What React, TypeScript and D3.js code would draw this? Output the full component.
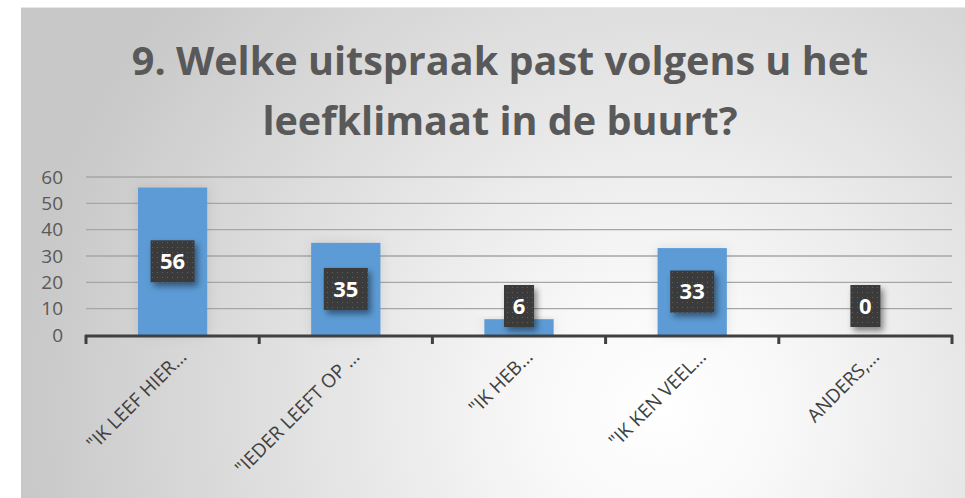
import React, { useEffect, useRef } from "react";
import * as d3 from "d3";

const categories = ['"IK LEEF HIER…', '"IEDER LEEFT OP …', '"IK HEB…', '"IK KEN VEEL…', "ANDERS,…"];
const values = [56, 35, 6, 33, 0];
const yTicks = [0, 10, 20, 30, 40, 50, 60];
const titleLines = ["9. Welke uitspraak past volgens u het", "leefklimaat in de buurt?"];

export default function App() {
  const ref = useRef<SVGSVGElement>(null);

  useEffect(() => {
    const W = 965, H = 498;
    const margin = { top: 177, left: 86, right: 13, bottom: 163 };
    const svg = d3.select(ref.current);
    svg.selectAll("*").remove();

    const defs = svg.append("defs");
    const grad = defs.append("radialGradient").attr("id", "bg")
      .attr("gradientUnits", "userSpaceOnUse")
      .attr("cx", 660).attr("cy", 410).attr("r", 640);
    grad.append("stop").attr("offset", 0).attr("stop-color", "#ffffff");
    grad.append("stop").attr("offset", 0.2).attr("stop-color", "#f8f8f8");
    grad.append("stop").attr("offset", 1).attr("stop-color", "#c8c8c8");

    const pat = defs.append("pattern").attr("id", "dots")
      .attr("width", 5).attr("height", 5).attr("patternUnits", "userSpaceOnUse");
    pat.append("rect").attr("width", 5).attr("height", 5).attr("fill", "#3a3a3a");
    pat.append("rect").attr("x", 2).attr("y", 2).attr("width", 1).attr("height", 1).attr("fill", "#5e5e5e");

    const sh = defs.append("filter").attr("id", "shadow").attr("x", "-50%").attr("y", "-50%").attr("width", "200%").attr("height", "200%");
    sh.append("feDropShadow").attr("dx", 3).attr("dy", 4).attr("stdDeviation", 3)
      .attr("flood-color", "#000").attr("flood-opacity", 0.45);
    const barSh = defs.append("filter").attr("id", "barshadow").attr("x", "-50%").attr("y", "-20%").attr("width", "200%").attr("height", "140%");
    barSh.append("feDropShadow").attr("dx", 0).attr("dy", 0).attr("stdDeviation", 6)
      .attr("flood-color", "#000").attr("flood-opacity", 0.1);

    // chart area
    svg.append("rect").attr("x", 21).attr("y", 7).attr("width", W - 21).attr("height", H - 7)
      .attr("fill", "url(#bg)");
    svg.append("line").attr("x1", 21).attr("x2", W).attr("y1", 7.5).attr("y2", 7.5)
      .attr("stroke", "#e8e8e8").attr("stroke-width", 1);

    // title
    svg.append("g").selectAll("text").data(titleLines).join("text")
      .attr("x", 500).attr("y", (d, i) => 75 + i * 60)
      .attr("text-anchor", "middle")
      .attr("font-family", "'Open Sans', sans-serif")
      .attr("font-weight", "bold").attr("font-size", 39.6)
      .attr("fill", "#595959")
      .text(d => d);

    const x = d3.scaleBand().domain(categories).range([margin.left, W - margin.right])
      .paddingInner(0.6).paddingOuter(0.3);
    const y = d3.scaleLinear().domain([0, 60]).range([H - margin.bottom, margin.top]);

    // gridlines
    svg.append("g").selectAll("line").data(yTicks.slice(1)).join("line")
      .attr("x1", margin.left).attr("x2", W - margin.right)
      .attr("y1", d => y(d)).attr("y2", d => y(d))
      .attr("stroke", "#a6a6a6").attr("stroke-width", 1.3);

    // y labels
    svg.append("g").selectAll("text").data(yTicks).join("text")
      .attr("x", 63).attr("y", d => y(d)).attr("dy", "0.35em")
      .attr("text-anchor", "end")
      .attr("font-family", "'Open Sans', sans-serif").attr("font-size", 19)
      .attr("fill", "#595959")
      .text(d => d);

    // bars
    svg.append("g").selectAll("rect").data(values).join("rect")
      .attr("x", (d, i) => x(categories[i])!)
      .attr("y", d => y(d))
      .attr("width", x.bandwidth())
      .attr("height", d => y(0) - y(d))
      .attr("fill", "#5b9bd5")
      .attr("filter", "url(#barshadow)");

    // x axis
    const edges = d3.range(categories.length + 1).map(i => margin.left + i * (W - margin.right - margin.left) / categories.length);
    svg.append("line").attr("x1", margin.left - 1).attr("x2", W - margin.right + 1)
      .attr("y1", y(0) + 1).attr("y2", y(0) + 1)
      .attr("stroke", "#404040").attr("stroke-width", 3);
    svg.append("g").selectAll("line").data(edges).join("line")
      .attr("x1", d => d).attr("x2", d => d)
      .attr("y1", y(0)).attr("y2", y(0) + 9)
      .attr("stroke", "#404040").attr("stroke-width", 3);

    // category labels
    svg.append("g").selectAll("text").data(categories).join("text")
      .attr("transform", d => `translate(${x(d)! + x.bandwidth() / 2 + 15},${y(0) + 23}) rotate(-45)`)
      .attr("text-anchor", "end")
      .attr("font-family", "'Open Sans', sans-serif").attr("font-size", 19)
      .attr("fill", "#404040")
      .text(d => d);

    // value labels
    const lbl = svg.append("g").selectAll("g").data(values).join("g");
    lbl.each(function (d, i) {
      const g = d3.select(this);
      const cx = x(categories[i])! + x.bandwidth() / 2;
      let cy = (y(d) + y(0)) / 2;
      const bw = String(d).length > 1 ? 44 : 30, bh = 42;
      cy = Math.min(cy, y(0) - 8 - bh / 2);
      g.append("rect").attr("x", cx - bw / 2).attr("y", cy - bh / 2)
        .attr("width", bw).attr("height", bh)
        .attr("fill", "url(#dots)").attr("filter", "url(#shadow)");
      g.append("text").attr("x", cx).attr("y", cy).attr("dy", "0.36em")
        .attr("text-anchor", "middle")
        .attr("font-family", "'Open Sans', sans-serif").attr("font-weight", "bold")
        .attr("font-size", 22).attr("fill", "#ffffff")
        .text(d);
    });
  }, []);

  return (
    <svg ref={ref} width={965} height={498}
      style={{ position: "absolute", left: 0, top: 0, display: "block", background: "#fff" }} />
  );
}
